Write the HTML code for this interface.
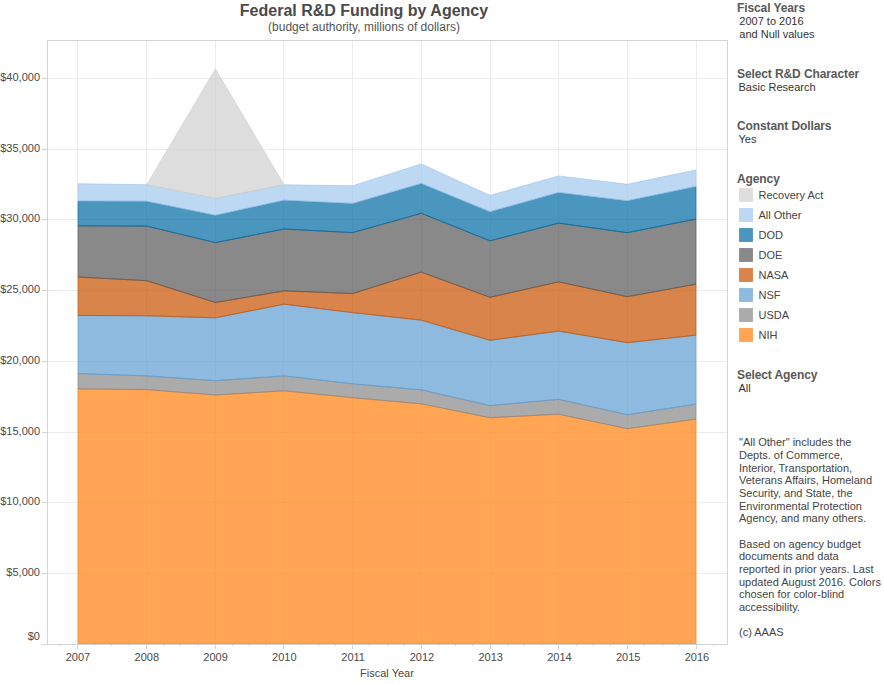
<!DOCTYPE html>
<html><head><meta charset="utf-8"><style>
html,body{margin:0;padding:0;background:#fff;width:884px;height:684px;overflow:hidden;}
svg{display:block;}
</style></head><body>
<svg width="884" height="684" viewBox="0 0 884 684">
<rect width="884" height="684" fill="#fff"/>
<rect x="48" y="573" width="679" height="1" fill="#ececec"/>
<rect x="48" y="502" width="679" height="1" fill="#ececec"/>
<rect x="48" y="432" width="679" height="1" fill="#ececec"/>
<rect x="48" y="361" width="679" height="1" fill="#ececec"/>
<rect x="48" y="290" width="679" height="1" fill="#ececec"/>
<rect x="48" y="219" width="679" height="1" fill="#ececec"/>
<rect x="48" y="149" width="679" height="1" fill="#ececec"/>
<rect x="48" y="78" width="679" height="1" fill="#ececec"/>
<rect x="77" y="41" width="1" height="603" fill="#ececec"/>
<rect x="146" y="41" width="1" height="603" fill="#ececec"/>
<rect x="215" y="41" width="1" height="603" fill="#ececec"/>
<rect x="283" y="41" width="1" height="603" fill="#ececec"/>
<rect x="352" y="41" width="1" height="603" fill="#ececec"/>
<rect x="421" y="41" width="1" height="603" fill="#ececec"/>
<rect x="490" y="41" width="1" height="603" fill="#ececec"/>
<rect x="558" y="41" width="1" height="603" fill="#ececec"/>
<rect x="627" y="41" width="1" height="603" fill="#ececec"/>
<rect x="696" y="41" width="1" height="603" fill="#ececec"/>
<polygon points="78.10,388.90 146.74,389.60 215.39,395.00 284.03,390.80 352.68,397.70 421.32,403.80 489.97,417.70 558.61,414.20 627.26,428.70 695.90,419.10 695.90,643.50 627.26,643.50 558.61,643.50 489.97,643.50 421.32,643.50 352.68,643.50 284.03,643.50 215.39,643.50 146.74,643.50 78.10,643.50" fill="#ff800e" fill-opacity="0.71" stroke="#ff800e" stroke-opacity="0.7" stroke-width="1" stroke-linejoin="round"/>
<polygon points="78.10,373.50 146.74,375.90 215.39,380.70 284.03,375.90 352.68,383.90 421.32,389.80 489.97,405.60 558.61,399.30 627.26,414.70 695.90,404.20 695.90,419.10 627.26,428.70 558.61,414.20 489.97,417.70 421.32,403.80 352.68,397.70 284.03,390.80 215.39,395.00 146.74,389.60 78.10,388.90" fill="#898989" fill-opacity="0.71" stroke="#898989" stroke-opacity="0.7" stroke-width="1" stroke-linejoin="round"/>
<polygon points="78.10,315.40 146.74,315.80 215.39,317.80 284.03,304.20 352.68,312.60 421.32,320.20 489.97,340.30 558.61,331.10 627.26,342.65 695.90,335.20 695.90,404.20 627.26,414.70 558.61,399.30 489.97,405.60 421.32,389.80 352.68,383.90 284.03,375.90 215.39,380.70 146.74,375.90 78.10,373.50" fill="#5f9ed1" fill-opacity="0.71" stroke="#5f9ed1" stroke-opacity="0.7" stroke-width="1" stroke-linejoin="round"/>
<polygon points="78.10,277.00 146.74,280.70 215.39,302.50 284.03,290.90 352.68,293.50 421.32,272.10 489.97,297.30 558.61,281.85 627.26,296.70 695.90,284.20 695.90,335.20 627.26,342.65 558.61,331.10 489.97,340.30 421.32,320.20 352.68,312.60 284.03,304.20 215.39,317.80 146.74,315.80 78.10,315.40" fill="#c85200" fill-opacity="0.71" stroke="#c85200" stroke-opacity="0.7" stroke-width="1" stroke-linejoin="round"/>
<polygon points="78.10,225.80 146.74,226.10 215.39,242.60 284.03,229.00 352.68,232.60 421.32,213.30 489.97,240.80 558.61,223.10 627.26,232.70 695.90,219.10 695.90,284.20 627.26,296.70 558.61,281.85 489.97,297.30 421.32,272.10 352.68,293.50 284.03,290.90 215.39,302.50 146.74,280.70 78.10,277.00" fill="#595959" fill-opacity="0.71" stroke="#595959" stroke-opacity="0.7" stroke-width="1" stroke-linejoin="round"/>
<polygon points="78.10,201.00 146.74,201.20 215.39,215.30 284.03,200.20 352.68,203.40 421.32,183.40 489.97,211.70 558.61,192.40 627.26,200.80 695.90,186.40 695.90,219.10 627.26,232.70 558.61,223.10 489.97,240.80 421.32,213.30 352.68,232.60 284.03,229.00 215.39,242.60 146.74,226.10 78.10,225.80" fill="#006ba4" fill-opacity="0.71" stroke="#006ba4" stroke-opacity="0.7" stroke-width="1" stroke-linejoin="round"/>
<polygon points="78.10,183.80 146.74,184.70 215.39,198.40 284.03,184.80 352.68,185.80 421.32,163.90 489.97,195.40 558.61,175.90 627.26,184.30 695.90,169.90 695.90,186.40 627.26,200.80 558.61,192.40 489.97,211.70 421.32,183.40 352.68,203.40 284.03,200.20 215.39,215.30 146.74,201.20 78.10,201.00" fill="#a2c8ec" fill-opacity="0.71" stroke="#a2c8ec" stroke-opacity="0.7" stroke-width="1" stroke-linejoin="round"/>
<polygon points="146.74,184.70 215.39,69.00 284.03,184.80 215.39,198.40" fill="#cfcfcf" fill-opacity="0.71" stroke="#cfcfcf" stroke-opacity="0.7" stroke-width="1"/>
<rect x="47" y="40" width="681" height="1" fill="#d4d4d4"/>
<rect x="47" y="40" width="1" height="605" fill="#d4d4d4"/>
<rect x="727" y="40" width="1" height="605" fill="#d4d4d4"/>
<rect x="42" y="644" width="686" height="1" fill="#d4d4d4"/>
<rect x="42" y="644" width="5" height="1" fill="#d4d4d4"/>
<rect x="42" y="573" width="5" height="1" fill="#d4d4d4"/>
<rect x="42" y="502" width="5" height="1" fill="#d4d4d4"/>
<rect x="42" y="432" width="5" height="1" fill="#d4d4d4"/>
<rect x="42" y="361" width="5" height="1" fill="#d4d4d4"/>
<rect x="42" y="290" width="5" height="1" fill="#d4d4d4"/>
<rect x="42" y="219" width="5" height="1" fill="#d4d4d4"/>
<rect x="42" y="149" width="5" height="1" fill="#d4d4d4"/>
<rect x="42" y="78" width="5" height="1" fill="#d4d4d4"/>
<rect x="60" y="645" width="1" height="1" fill="#d4d4d4"/>
<rect x="77" y="645" width="1" height="4" fill="#d4d4d4"/>
<rect x="94" y="645" width="1" height="1" fill="#d4d4d4"/>
<rect x="111" y="645" width="1" height="1" fill="#d4d4d4"/>
<rect x="129" y="645" width="1" height="1" fill="#d4d4d4"/>
<rect x="146" y="645" width="1" height="4" fill="#d4d4d4"/>
<rect x="163" y="645" width="1" height="1" fill="#d4d4d4"/>
<rect x="180" y="645" width="1" height="1" fill="#d4d4d4"/>
<rect x="197" y="645" width="1" height="1" fill="#d4d4d4"/>
<rect x="215" y="645" width="1" height="4" fill="#d4d4d4"/>
<rect x="232" y="645" width="1" height="1" fill="#d4d4d4"/>
<rect x="249" y="645" width="1" height="1" fill="#d4d4d4"/>
<rect x="266" y="645" width="1" height="1" fill="#d4d4d4"/>
<rect x="283" y="645" width="1" height="4" fill="#d4d4d4"/>
<rect x="301" y="645" width="1" height="1" fill="#d4d4d4"/>
<rect x="318" y="645" width="1" height="1" fill="#d4d4d4"/>
<rect x="335" y="645" width="1" height="1" fill="#d4d4d4"/>
<rect x="352" y="645" width="1" height="4" fill="#d4d4d4"/>
<rect x="369" y="645" width="1" height="1" fill="#d4d4d4"/>
<rect x="387" y="645" width="1" height="1" fill="#d4d4d4"/>
<rect x="404" y="645" width="1" height="1" fill="#d4d4d4"/>
<rect x="421" y="645" width="1" height="4" fill="#d4d4d4"/>
<rect x="438" y="645" width="1" height="1" fill="#d4d4d4"/>
<rect x="455" y="645" width="1" height="1" fill="#d4d4d4"/>
<rect x="472" y="645" width="1" height="1" fill="#d4d4d4"/>
<rect x="490" y="645" width="1" height="4" fill="#d4d4d4"/>
<rect x="507" y="645" width="1" height="1" fill="#d4d4d4"/>
<rect x="524" y="645" width="1" height="1" fill="#d4d4d4"/>
<rect x="541" y="645" width="1" height="1" fill="#d4d4d4"/>
<rect x="558" y="645" width="1" height="4" fill="#d4d4d4"/>
<rect x="576" y="645" width="1" height="1" fill="#d4d4d4"/>
<rect x="593" y="645" width="1" height="1" fill="#d4d4d4"/>
<rect x="610" y="645" width="1" height="1" fill="#d4d4d4"/>
<rect x="627" y="645" width="1" height="4" fill="#d4d4d4"/>
<rect x="644" y="645" width="1" height="1" fill="#d4d4d4"/>
<rect x="662" y="645" width="1" height="1" fill="#d4d4d4"/>
<rect x="679" y="645" width="1" height="1" fill="#d4d4d4"/>
<rect x="696" y="645" width="1" height="4" fill="#d4d4d4"/>
<rect x="713" y="645" width="1" height="1" fill="#d4d4d4"/>
<text x="40" y="640" text-anchor="end" font-family="Liberation Sans, sans-serif" font-size="11" fill="#4a4a4a">$0</text>
<text x="40" y="576" text-anchor="end" font-family="Liberation Sans, sans-serif" font-size="11" fill="#4a4a4a">$5,000</text>
<text x="40" y="505" text-anchor="end" font-family="Liberation Sans, sans-serif" font-size="11" fill="#4a4a4a">$10,000</text>
<text x="40" y="435" text-anchor="end" font-family="Liberation Sans, sans-serif" font-size="11" fill="#4a4a4a">$15,000</text>
<text x="40" y="364" text-anchor="end" font-family="Liberation Sans, sans-serif" font-size="11" fill="#4a4a4a">$20,000</text>
<text x="40" y="293" text-anchor="end" font-family="Liberation Sans, sans-serif" font-size="11" fill="#4a4a4a">$25,000</text>
<text x="40" y="222" text-anchor="end" font-family="Liberation Sans, sans-serif" font-size="11" fill="#4a4a4a">$30,000</text>
<text x="40" y="152" text-anchor="end" font-family="Liberation Sans, sans-serif" font-size="11" fill="#4a4a4a">$35,000</text>
<text x="40" y="81" text-anchor="end" font-family="Liberation Sans, sans-serif" font-size="11" fill="#4a4a4a">$40,000</text>
<text x="78.0" y="661" text-anchor="middle" font-family="Liberation Sans, sans-serif" font-size="11" fill="#4a4a4a">2007</text>
<text x="146.8" y="661" text-anchor="middle" font-family="Liberation Sans, sans-serif" font-size="11" fill="#4a4a4a">2008</text>
<text x="215.6" y="661" text-anchor="middle" font-family="Liberation Sans, sans-serif" font-size="11" fill="#4a4a4a">2009</text>
<text x="284.3" y="661" text-anchor="middle" font-family="Liberation Sans, sans-serif" font-size="11" fill="#4a4a4a">2010</text>
<text x="353.1" y="661" text-anchor="middle" font-family="Liberation Sans, sans-serif" font-size="11" fill="#4a4a4a">2011</text>
<text x="421.9" y="661" text-anchor="middle" font-family="Liberation Sans, sans-serif" font-size="11" fill="#4a4a4a">2012</text>
<text x="490.7" y="661" text-anchor="middle" font-family="Liberation Sans, sans-serif" font-size="11" fill="#4a4a4a">2013</text>
<text x="559.4" y="661" text-anchor="middle" font-family="Liberation Sans, sans-serif" font-size="11" fill="#4a4a4a">2014</text>
<text x="628.2" y="661" text-anchor="middle" font-family="Liberation Sans, sans-serif" font-size="11" fill="#4a4a4a">2015</text>
<text x="697.0" y="661" text-anchor="middle" font-family="Liberation Sans, sans-serif" font-size="11" fill="#4a4a4a">2016</text>
<text x="387" y="677" text-anchor="middle" font-family="Liberation Sans, sans-serif" font-size="11" fill="#4a4a4a">Fiscal Year</text>
<text x="364" y="16" text-anchor="middle" font-family="Liberation Sans, sans-serif" font-size="16" font-weight="bold" fill="#4a4a4a">Federal R&amp;D Funding by Agency</text>
<text x="364" y="31" text-anchor="middle" font-family="Liberation Sans, sans-serif" font-size="12" fill="#555">(budget authority, millions of dollars)</text>
<text x="737" y="12" font-family="Liberation Sans, sans-serif" font-size="12" font-weight="bold" letter-spacing="-0.1" fill="#595959">Fiscal Years</text>
<text x="739.3" y="25" font-family="Liberation Sans, sans-serif" font-size="11" fill="#333">2007 to 2016</text>
<text x="739.3" y="38" font-family="Liberation Sans, sans-serif" font-size="11" fill="#333">and Null values</text>
<text x="737" y="78" font-family="Liberation Sans, sans-serif" font-size="12" font-weight="bold" letter-spacing="-0.1" fill="#595959">Select R&amp;D Character</text>
<text x="738.5" y="91" font-family="Liberation Sans, sans-serif" font-size="11" fill="#333">Basic Research</text>
<text x="737" y="130" font-family="Liberation Sans, sans-serif" font-size="12" font-weight="bold" letter-spacing="-0.1" fill="#595959">Constant Dollars</text>
<text x="738.5" y="143" font-family="Liberation Sans, sans-serif" font-size="11" fill="#333">Yes</text>
<text x="737" y="183" font-family="Liberation Sans, sans-serif" font-size="12" font-weight="bold" letter-spacing="-0.1" fill="#595959">Agency</text>
<rect x="739.5" y="188.5" width="13" height="13" fill="#cfcfcf" fill-opacity="0.71" stroke="#cfcfcf" stroke-opacity="0.5" stroke-width="1"/>
<text x="758.5" y="199" font-family="Liberation Sans, sans-serif" font-size="11" fill="#444">Recovery Act</text>
<rect x="739.5" y="208.5" width="13" height="13" fill="#a2c8ec" fill-opacity="0.71" stroke="#a2c8ec" stroke-opacity="0.5" stroke-width="1"/>
<text x="758.5" y="219" font-family="Liberation Sans, sans-serif" font-size="11" fill="#444">All Other</text>
<rect x="739.5" y="228.5" width="13" height="13" fill="#006ba4" fill-opacity="0.71" stroke="#006ba4" stroke-opacity="0.5" stroke-width="1"/>
<text x="758.5" y="239" font-family="Liberation Sans, sans-serif" font-size="11" fill="#444">DOD</text>
<rect x="739.5" y="248.5" width="13" height="13" fill="#595959" fill-opacity="0.71" stroke="#595959" stroke-opacity="0.5" stroke-width="1"/>
<text x="758.5" y="259" font-family="Liberation Sans, sans-serif" font-size="11" fill="#444">DOE</text>
<rect x="739.5" y="268.5" width="13" height="13" fill="#c85200" fill-opacity="0.71" stroke="#c85200" stroke-opacity="0.5" stroke-width="1"/>
<text x="758.5" y="279" font-family="Liberation Sans, sans-serif" font-size="11" fill="#444">NASA</text>
<rect x="739.5" y="288.5" width="13" height="13" fill="#5f9ed1" fill-opacity="0.71" stroke="#5f9ed1" stroke-opacity="0.5" stroke-width="1"/>
<text x="758.5" y="299" font-family="Liberation Sans, sans-serif" font-size="11" fill="#444">NSF</text>
<rect x="739.5" y="308.5" width="13" height="13" fill="#898989" fill-opacity="0.71" stroke="#898989" stroke-opacity="0.5" stroke-width="1"/>
<text x="758.5" y="319" font-family="Liberation Sans, sans-serif" font-size="11" fill="#444">USDA</text>
<rect x="739.5" y="328.5" width="13" height="13" fill="#ff800e" fill-opacity="0.71" stroke="#ff800e" stroke-opacity="0.5" stroke-width="1"/>
<text x="758.5" y="339" font-family="Liberation Sans, sans-serif" font-size="11" fill="#444">NIH</text>
<text x="737" y="379" font-family="Liberation Sans, sans-serif" font-size="12" font-weight="bold" letter-spacing="-0.1" fill="#595959">Select Agency</text>
<text x="738.5" y="392" font-family="Liberation Sans, sans-serif" font-size="11" fill="#333">All</text>
<text x="739" y="446" font-family="Liberation Sans, sans-serif" font-size="11" fill="#444">&quot;All Other&quot; includes the</text>
<text x="739" y="459" font-family="Liberation Sans, sans-serif" font-size="11" fill="#444">Depts. of Commerce,</text>
<text x="739" y="472" font-family="Liberation Sans, sans-serif" font-size="11" fill="#444">Interior, Transportation,</text>
<text x="739" y="484" font-family="Liberation Sans, sans-serif" font-size="11" fill="#444">Veterans Affairs, Homeland</text>
<text x="739" y="497" font-family="Liberation Sans, sans-serif" font-size="11" fill="#444">Security, and State, the</text>
<text x="739" y="510" font-family="Liberation Sans, sans-serif" font-size="11" fill="#444">Environmental Protection</text>
<text x="739" y="522" font-family="Liberation Sans, sans-serif" font-size="11" fill="#444">Agency, and many others.</text>
<text x="739" y="548" font-family="Liberation Sans, sans-serif" font-size="11" fill="#444">Based on agency budget</text>
<text x="739" y="560" font-family="Liberation Sans, sans-serif" font-size="11" fill="#444">documents and data</text>
<text x="739" y="573" font-family="Liberation Sans, sans-serif" font-size="11" fill="#444">reported in prior years. Last</text>
<text x="739" y="586" font-family="Liberation Sans, sans-serif" font-size="11" fill="#444">updated August 2016. Colors</text>
<text x="739" y="598" font-family="Liberation Sans, sans-serif" font-size="11" fill="#444">chosen for color-blind</text>
<text x="739" y="611" font-family="Liberation Sans, sans-serif" font-size="11" fill="#444">accessibility.</text>
<text x="739" y="636" font-family="Liberation Sans, sans-serif" font-size="11" fill="#444">(c) AAAS</text>
</svg></body></html>
